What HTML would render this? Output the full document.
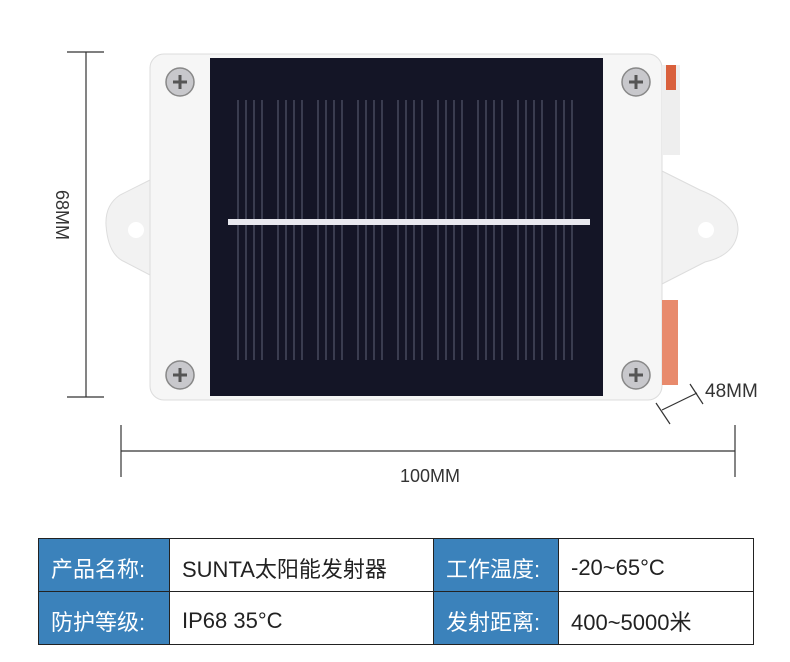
<!DOCTYPE html>
<html><head><meta charset="utf-8"><style>
body{margin:0;width:790px;height:662px;background:#fff;position:relative;overflow:hidden;font-family:"Liberation Sans","Noto Sans CJK SC",sans-serif}
table{position:absolute;left:38px;top:538px;width:715px;height:106px;border-collapse:collapse;border:1.5px solid #222;table-layout:fixed}
td{border:1px solid #222;font-size:22px;padding:6px 0 0 12px;height:46px;color:#222;white-space:nowrap}
td.h{background:#3b82bb;color:#fff}
</style></head><body>
<svg width="790" height="530" style="position:absolute;left:0;top:0">
<g stroke="#333" stroke-width="1.2" fill="none">
<line x1="86" y1="52" x2="86" y2="397"/><line x1="67" y1="52" x2="104" y2="52"/><line x1="67" y1="397" x2="104" y2="397"/>
<line x1="121" y1="451" x2="735" y2="451"/><line x1="121" y1="425" x2="121" y2="477"/><line x1="735" y1="425" x2="735" y2="477"/>
<line x1="662" y1="410" x2="697" y2="393"/><line x1="656" y1="403" x2="670" y2="424"/><line x1="690" y1="384" x2="703" y2="404"/>
</g>
<text x="430" y="482" font-size="18" text-anchor="middle" fill="#333" font-family="Liberation Sans">100MM</text>
<text x="705" y="397" font-size="19" fill="#333" font-family="Liberation Sans">48MM</text>
<text transform="translate(56,215) rotate(90)" font-size="18" text-anchor="middle" fill="#333" font-family="Liberation Sans">68MM</text>
<path d="M150 180 L120 195 Q105 205 106 225 Q108 255 125 262 L150 275Z" fill="#f2f2f2" stroke="#ddd"/>
<path d="M660 170 L700 190 Q738 205 738 230 Q736 255 705 262 L660 285Z" fill="#f2f2f2" stroke="#ddd"/>
<circle cx="136" cy="230" r="8" fill="#fff"/><circle cx="706" cy="230" r="8" fill="#fff"/>
<rect x="150" y="54" width="512" height="346" rx="14" fill="#f6f6f6" stroke="#dcdcdc"/>
<rect x="662" y="65" width="18" height="90" fill="#eeeeee"/><rect x="666" y="65" width="10" height="25" fill="#d9603c"/>
<rect x="662" y="300" width="16" height="85" fill="#e88a6c"/>
<rect x="210" y="58" width="393" height="338" fill="#141526"/>
<g stroke="#8a8ea8" stroke-width="0.8" opacity="0.8">
<line x1="238" y1="100" x2="238" y2="360"/><line x1="246" y1="100" x2="246" y2="360"/><line x1="254" y1="100" x2="254" y2="360"/><line x1="262" y1="100" x2="262" y2="360"/>
<line x1="278" y1="100" x2="278" y2="360"/><line x1="286" y1="100" x2="286" y2="360"/><line x1="294" y1="100" x2="294" y2="360"/><line x1="302" y1="100" x2="302" y2="360"/>
<line x1="318" y1="100" x2="318" y2="360"/><line x1="326" y1="100" x2="326" y2="360"/><line x1="334" y1="100" x2="334" y2="360"/><line x1="342" y1="100" x2="342" y2="360"/>
<line x1="358" y1="100" x2="358" y2="360"/><line x1="366" y1="100" x2="366" y2="360"/><line x1="374" y1="100" x2="374" y2="360"/><line x1="382" y1="100" x2="382" y2="360"/>
<line x1="398" y1="100" x2="398" y2="360"/><line x1="406" y1="100" x2="406" y2="360"/><line x1="414" y1="100" x2="414" y2="360"/><line x1="422" y1="100" x2="422" y2="360"/>
<line x1="438" y1="100" x2="438" y2="360"/><line x1="446" y1="100" x2="446" y2="360"/><line x1="454" y1="100" x2="454" y2="360"/><line x1="462" y1="100" x2="462" y2="360"/>
<line x1="478" y1="100" x2="478" y2="360"/><line x1="486" y1="100" x2="486" y2="360"/><line x1="494" y1="100" x2="494" y2="360"/><line x1="502" y1="100" x2="502" y2="360"/>
<line x1="518" y1="100" x2="518" y2="360"/><line x1="526" y1="100" x2="526" y2="360"/><line x1="534" y1="100" x2="534" y2="360"/><line x1="542" y1="100" x2="542" y2="360"/>
<line x1="556" y1="100" x2="556" y2="360"/><line x1="564" y1="100" x2="564" y2="360"/><line x1="572" y1="100" x2="572" y2="360"/>
</g>
<rect x="228" y="219" width="362" height="6" fill="#e8e8ee"/>
<g fill="#c8c8cc" stroke="#888" stroke-width="1.5">
<circle cx="180" cy="82" r="14"/><circle cx="636" cy="82" r="14"/><circle cx="180" cy="375" r="14"/><circle cx="636" cy="375" r="14"/>
</g>
<g stroke="#555" stroke-width="3">
<path d="M173 82h14M180 75v14M629 82h14M636 75v14M173 375h14M180 368v14M629 375h14M636 368v14"/>
</g>
</svg>
<table>
<colgroup><col style="width:131px"><col style="width:264px"><col style="width:125px"><col style="width:195px"></colgroup>
<tr><td class="h">产品名称:</td><td>SUNTA太阳能发射器</td><td class="h">工作温度:</td><td>-20~65°C</td></tr>
<tr><td class="h">防护等级:</td><td>IP68 35°C</td><td class="h">发射距离:</td><td>400~5000米</td></tr>
</table>
</body></html>
